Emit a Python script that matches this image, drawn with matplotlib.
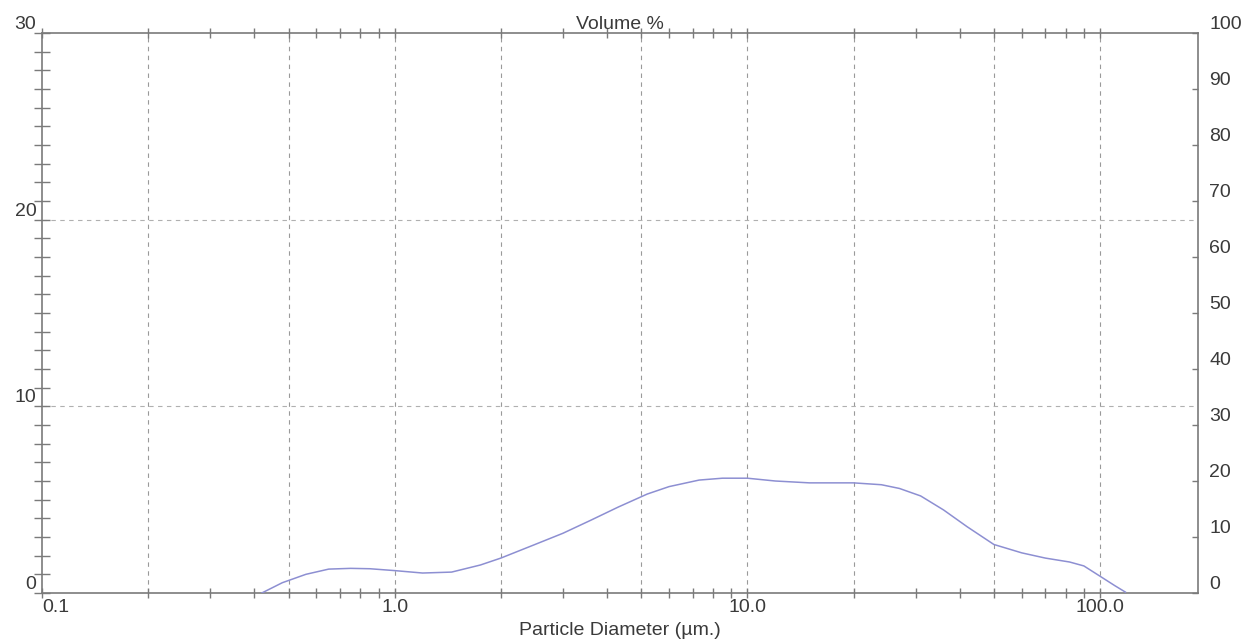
import numpy as np
import matplotlib
matplotlib.use("Agg")
import matplotlib.pyplot as plt
from matplotlib.ticker import FixedLocator, NullFormatter

plt.rcParams['font.family'] = ['Liberation Sans', 'DejaVu Sans']

# particle size distribution
diameter = [0.42, 0.48, 0.56, 0.65, 0.75, 0.85, 1.0, 1.2, 1.45, 1.75, 2.0, 2.5,
            3.0, 3.6, 4.3, 5.2, 6.0, 7.3, 8.5, 10.0, 12.0, 15.0, 20.0, 24.0,
            27.0, 31.0, 36.0, 42.0, 50.0, 60.0, 70.0, 82.0, 90.0, 100.0,
            110.0, 118.0]
volume = [0.0, 0.55, 1.0, 1.28, 1.32, 1.3, 1.2, 1.07, 1.12, 1.5, 1.87, 2.6,
          3.2, 3.9, 4.6, 5.3, 5.7, 6.05, 6.15, 6.15, 6.0, 5.9, 5.9, 5.8,
          5.6, 5.2, 4.45, 3.55, 2.6, 2.15, 1.87, 1.66, 1.45, 0.9, 0.4, 0.05]

x_major = [0.1, 1.0, 10.0, 100.0]
x_labels = ["0.1", "1.0", "10.0", "100.0"]
x_grid = [0.2, 0.5, 1.0, 2.0, 5.0, 10.0, 20.0, 50.0, 100.0]
left_ticks = [0, 10, 20, 30]
right_ticks = [0, 10, 20, 30, 40, 50, 60, 70, 80, 90, 100]

grey = '#7a7a7a'
txt = '#3a3a3a'
fs = 14

fig = plt.figure(figsize=(12.53, 6.43), dpi=100)
ax = fig.add_axes([42 / 1253, 50 / 643, 1156 / 1253, 560 / 643])
ax.set_xscale('log')
ax.set_xlim(0.1, 189.6)
ax.set_ylim(0, 30)

for d in x_grid:
    ax.axvline(d, color='#9a9a9a', lw=0.8, ls=(0, (4, 4)), zorder=1)
for v in [10, 20]:
    ax.axhline(v, color='#b0b0b0', lw=0.8, ls=(0, (4, 4)), zorder=1)

ax.plot(diameter, volume, color='#8d8fd2', lw=1.1, zorder=3)

# x ticks
minor = [m * 10.0 ** e for e in range(-1, 3) for m in range(2, 10)]
ax.xaxis.set_major_locator(FixedLocator(x_major))
ax.xaxis.set_minor_locator(FixedLocator(minor))
ax.xaxis.set_minor_formatter(NullFormatter())
ax.set_xticklabels(x_labels)
ax.tick_params(axis='x', which='both', direction='inout', length=7, width=1,
               color=grey, top=True, labelsize=fs, labelcolor=txt, pad=1)
ax.get_xticklabels()[0].set_horizontalalignment('left')
for lab in ax.get_xticklabels():
    lab.set_x(lab.get_position()[0])

# left y ticks
ax.yaxis.set_major_locator(FixedLocator(left_ticks))
ax.yaxis.set_minor_locator(FixedLocator(list(range(0, 31))))
ax.tick_params(axis='y', which='both', direction='inout', length=12, width=1,
               color=grey, labelsize=fs, labelcolor=txt, pad=-2)
for lab in ax.get_yticklabels():
    lab.set_verticalalignment('bottom')

for side in ['left', 'bottom', 'top', 'right']:
    ax.spines[side].set_color(grey)
    ax.spines[side].set_linewidth(1.2)

# right y axis
ax2 = ax.twinx()
ax2.set_ylim(0, 100)
ax2.yaxis.set_major_locator(FixedLocator(right_ticks))
ax2.tick_params(axis='y', direction='in', length=4, width=1, color=grey,
                labelsize=fs, labelcolor=txt, pad=8)
for lab in ax2.get_yticklabels():
    lab.set_verticalalignment('bottom')
for side in ['left', 'bottom', 'top', 'right']:
    ax2.spines[side].set_visible(False)

ax.set_title("Volume %", fontsize=fs, color=txt, pad=3)
ax.set_xlabel("Particle Diameter (µm.)", fontsize=fs, color=txt, labelpad=4)

fig.savefig("out.png", dpi=100)
